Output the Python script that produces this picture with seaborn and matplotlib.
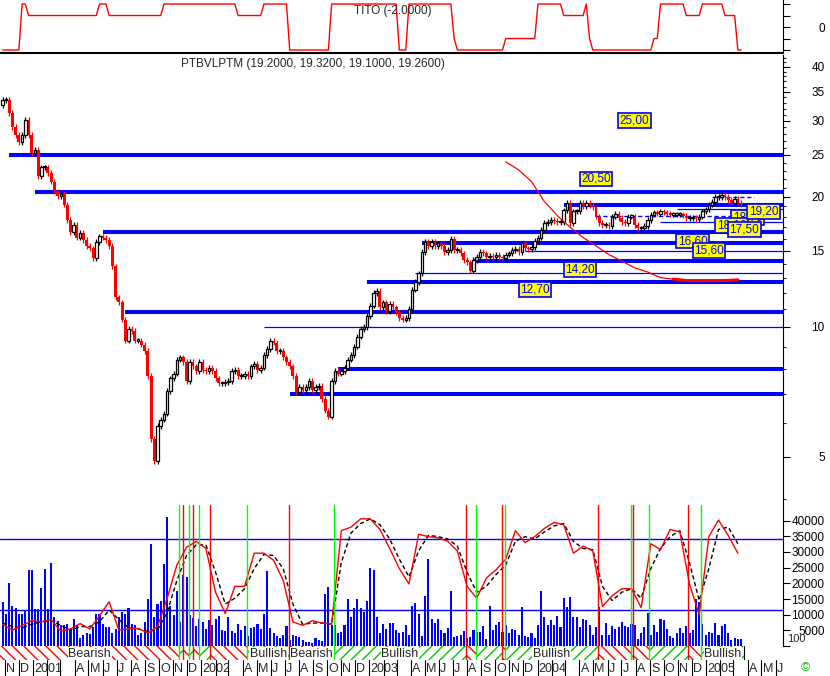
import numpy as np
import pandas as pd
import matplotlib
matplotlib.use('Agg')
import matplotlib.pyplot as plt
import matplotlib.dates as mdates
from matplotlib.patches import Rectangle
from matplotlib.ticker import FixedLocator, FixedFormatter, NullFormatter
import seaborn as sns

sns.set_style('white')
plt.rcParams['font.family'] = ['Liberation Sans', 'DejaVu Sans']
plt.rcParams['hatch.linewidth'] = 1.0

RED = '#ff0000'
BLUE = '#0000ff'
GREEN = '#00ff00'

# weekly closes (first bar 27 Oct 2000), open = previous close
first_open = 32.6
closes = [33.5, 33.5, 31.3, 29.0, 27.8, 26.8, 27.8, 30.1, 27.8, 25.3,
          25.7, 22.3, 23.4, 23.4, 22.7, 21.7, 20.6, 20.1, 20.3, 19.2,
          17.7, 16.6, 17.2, 16.1, 16.5, 15.9, 15.4, 15.2, 14.4, 15.7,
          16.2, 16.1, 15.9, 15.4, 13.8, 11.7, 11.4, 10.4, 9.3, 9.9,
          9.8, 9.3, 9.3, 9.1, 8.8, 7.7, 5.5, 4.9, 5.9, 6.1,
          6.3, 7.1, 7.6, 7.8, 8.4, 8.5, 8.3, 7.5, 8.3, 8.1,
          7.9, 8.3, 7.95, 7.9, 8.05, 7.9, 7.6, 7.4, 7.4, 7.45,
          7.5, 7.9, 7.95, 7.7, 7.7, 7.8, 7.7, 8.1, 8.2, 7.95,
          8.05, 8.6, 8.9, 9.3, 9.2, 8.8, 8.8, 8.5, 8.3, 8.1,
          7.7, 7.05, 7.25, 7.15, 7.25, 7.5, 7.15, 7.25, 7.3, 6.8,
          6.4, 6.2, 7.5, 7.9, 7.8, 7.9, 8.05, 8.4, 8.6, 9.0,
          9.5, 9.9, 10.0, 10.6, 11.2, 12.0, 12.1, 11.1, 11.4, 10.9,
          11.3, 11.1, 10.8, 10.5, 10.4, 10.5, 11.0, 12.2, 12.7, 13.3,
          14.9, 15.7, 15.4, 15.7, 15.4, 15.6, 15.4, 14.9, 15.05, 16.0,
          15.05, 15.05, 14.8, 14.3, 14.1, 13.5, 14.3, 14.5, 14.9, 14.8,
          14.5, 14.6, 14.5, 14.7, 14.5, 14.4, 14.7, 14.8, 15.05, 15.15,
          14.9, 15.6, 15.2, 15.15, 15.3, 15.8, 16.1, 16.8, 17.4, 17.5,
          17.7, 17.6, 17.5, 17.5, 18.6, 19.4, 17.4, 18.5, 18.5, 19.4,
          19.0, 19.4, 19.1, 18.9, 18.0, 17.4, 17.2, 17.2, 17.1, 18.0,
          18.3, 17.9, 17.5, 17.4, 18.0, 18.0, 17.2, 16.9, 16.9, 17.1,
          17.7, 18.2, 18.4, 18.3, 18.5, 18.4, 18.3, 18.2, 18.2, 18.2,
          18.2, 18.1, 17.9, 17.9, 17.9, 17.8, 18.0, 18.5, 18.7, 19.2,
          19.5, 20.0, 20.0, 20.2, 20.0, 19.7, 19.4, 19.8, 19.4, 19.26]

# weekly volume, thousands
volume_k = [14.2, 10.3, 20.1, 12.7, 12.1, 10.3, 10.3, 11.3, 24.2, 24.3,
            11.9, 11.9, 18.4, 24.7, 11.9, 26.4, 9.2, 7.9, 6.8, 6.6,
            7.1, 5.5, 8.5, 6.6, 2.6, 3.4, 4.0, 3.7, 6.1, 10.3,
            10.3, 7.1, 6.1, 6.1, 4.0, 5.5, 9.2, 10.8, 10.3, 12.1,
            7.1, 6.6, 3.4, 4.0, 7.7, 15.0, 32.4, 9.2, 13.4, 14.5,
            26.1, 41.1, 12.9, 9.8, 17.7, 7.7, 22.6, 21.9, 10.0, 8.9,
            6.4, 8.5, 7.7, 5.3, 8.2, 6.8, 8.7, 9.5, 5.0, 4.7,
            9.1, 4.7, 4.3, 7.1, 5.0, 6.4, 3.2, 5.8, 6.1, 7.1,
            5.3, 10.3, 24.0, 5.8, 4.0, 3.2, 2.6, 3.4, 6.4, 1.9,
            3.4, 3.2, 2.9, 1.9, 1.3, 1.3, 0.8, 2.4, 1.9, 1.5,
            16.6, 18.7, 6.8, 6.6, 4.0, 4.5, 6.8, 15.0, 9.2, 12.1,
            15.0, 12.1, 11.0, 14.5, 25.0, 24.3, 9.2, 4.3, 7.1, 5.3,
            7.4, 7.4, 5.0, 4.3, 4.5, 6.6, 3.6, 12.9, 13.7, 10.3,
            3.1, 16.1, 27.7, 8.7, 7.4, 8.5, 5.0, 4.0, 5.9, 17.6,
            2.9, 3.1, 3.6, 4.7, 2.6, 2.9, 5.0, 4.5, 4.5, 6.4,
            2.2, 12.9, 5.0, 6.8, 7.7, 4.5, 6.8, 4.3, 5.3, 5.0,
            3.6, 12.4, 3.2, 2.9, 4.3, 2.6, 6.8, 17.6, 9.2, 6.6,
            8.2, 6.6, 9.5, 6.1, 15.2, 12.4, 15.5, 9.2, 9.2, 6.1,
            8.5, 8.2, 6.8, 3.4, 6.1, 12.4, 3.6, 7.4, 3.4, 6.4,
            5.5, 6.1, 7.7, 6.4, 6.1, 7.1, 6.8, 2.2, 4.3, 6.1,
            10.6, 3.4, 6.8, 4.5, 8.7, 8.2, 5.5, 3.2, 2.6, 4.0,
            5.7, 4.0, 6.4, 4.0, 5.0, 15.0, 14.0, 7.1, 3.4, 4.5,
            4.0, 7.4, 3.4, 6.4, 7.1, 4.0, 1.9, 2.4, 2.2, 2.2]

# TITO indicator as (value, number of weeks)
tito_runs = [(-2, 6), (2, 2), (1, 22), (2, 3), (1, 17), (2, 23), (1, 8), (2, 8),
             (-2, 13), (2, 21), (-2, 3), (2, 14), (-1, 1), (-2, 15), (-1, 10),
             (2, 8), (1, 7), (2, 1), (-1, 1), (-2, 19), (-1, 2), (2, 8), (1, 5),
             (2, 7), (1, 4), (-2, 2)]

# stochastic %K / %D, one value every 3 weeks
stoch_k = [8, 3, 7, 11, 10, 12, 2, 4, 8.5, 4, 15, 27, 3, 4, 4.5, 0.5, 6, 30, 58, 73,
           78, 72, 35, 17, 40, 40, 68, 68, 62, 45, 10, 7, 11, 9, 8, 87, 90, 97, 97, 88,
           72, 55, 42, 84, 82, 81, 78, 70, 40, 30, 47, 54, 63, 87, 77, 82, 89, 94, 92, 68,
           74, 70, 23, 32, 38, 38, 22, 76, 71, 88, 86, 42, 16, 82, 96, 83, 68]
stoch_d = [9, 6, 5, 8, 10, 11, 7, 3, 6, 6, 10, 20, 12, 5, 4, 2, 3, 18, 45, 66,
           75, 75, 52, 25, 30, 38, 55, 67, 66, 55, 25, 8, 9, 9, 8, 60, 85, 93, 97, 92,
           80, 63, 48, 70, 83, 82, 80, 74, 52, 35, 40, 50, 58, 78, 82, 80, 86, 91, 93, 78,
           72, 71, 40, 28, 35, 38, 30, 55, 72, 82, 87, 60, 28, 55, 88, 90, 76]

# red curve in the price panel, every 4 weeks from Oct 2003
curve_price = [24.1, 23.1, 21.7, 19.5, 18.1, 17.0, 16.1, 15.4, 14.7, 14.2,
               13.7, 13.4, 13.0, 12.9, 12.8, 12.8, 12.8, 12.8, 12.85]

# horizontal support / resistance lines: price, start, end, style
levels = [(25.0, '2000-11-10', None, 'thick'), (20.5, '2001-01-05', None, 'thick'),
          (16.6, '2001-06-01', None, 'thick'), (10.8, '2001-07-20', None, 'thick'),
          (10.0, '2002-05-17', None, 'thin'), (7.0, '2002-07-12', None, 'thick'),
          (8.0, '2002-10-25', None, 'thick'), (12.7, '2002-12-27', None, 'thick'),
          (13.3, '2003-04-11', None, 'thin'), (15.6, '2003-04-25', None, 'thick'),
          (14.2, '2003-08-15', None, 'thick'), (15.0, '2003-12-05', None, 'thin'),
          (19.2, '2004-02-27', None, 'thick'), (18.1, '2004-05-07', '2005-03-04', 'dash'),
          (18.7, '2004-10-29', None, 'thin'), (17.5, '2004-09-24', None, 'thin'),
          (20.0, '2005-01-14', '2005-04-15', 'dash')]

# level tags: text, date, price, drawing order
tags = [('25,00', '2004-07-30', 30.0, 5), ('20,50', '2004-05-07', 22.0, 5),
        ('18,70', '2005-04-01', 17.9, 5), ('19,20', '2005-05-06', 18.5, 6),
        ('18,10', '2005-02-25', 17.2, 5), ('17,50', '2005-03-25', 16.8, 6),
        ('16,60', '2004-12-03', 15.8, 5), ('15,60', '2005-01-07', 15.0, 6),
        ('14,20', '2004-04-02', 13.6, 5), ('12,70', '2003-12-26', 12.2, 5)]

buy_signals = ['2001-11-14', '2001-12-06', '2001-12-28', '2002-04-11', '2002-10-16',
               '2003-08-20', '2003-10-22', '2004-07-23', '2004-08-31', '2004-12-22']
sell_signals = ['2001-11-23', '2001-12-15', '2002-01-19', '2002-07-11', '2003-07-30',
                '2003-10-16', '2004-05-11', '2004-07-26', '2004-11-22']

weeks = pd.date_range('2000-10-27', periods=len(closes), freq='W-FRI')
xw = mdates.date2num(weeks)
x_left = mdates.date2num(pd.Timestamp('2000-10-21'))
x_right = mdates.date2num(pd.Timestamp('2005-06-17'))

fig = plt.figure(figsize=(8.3, 6.76), dpi=100)
W = 783 / 830


def box(top, bottom):
    return [0, 1 - bottom / 676, W, (bottom - top) / 676]


ax_t = fig.add_axes(box(0, 53))
ax_p = fig.add_axes(box(55, 505))
ax_v = fig.add_axes(box(505, 646))
ax_b = fig.add_axes(box(646, 660))
ax_m = fig.add_axes(box(660, 676))

for a in (ax_t, ax_p, ax_v, ax_b, ax_m):
    a.set_xlim(x_left, x_right)
    a.set_facecolor('white')
    for s in a.spines.values():
        s.set_visible(False)
        s.set_color('black')


def right_ticks(a, pad=25):
    a.yaxis.tick_right()
    a.tick_params(axis='y', which='major', right=True, left=False, labelright=True,
                  labelleft=False, direction='out', length=5, width=0.8, pad=pad,
                  labelsize=8.5, colors='black')
    a.tick_params(axis='y', which='minor', right=True, left=False, direction='out',
                  length=2.5, width=0.8)
    a.tick_params(axis='x', bottom=False, labelbottom=False)
    for lab in a.get_yticklabels():
        lab.set_ha('right')


# TITO panel
tito = np.repeat([v for v, n in tito_runs], [n for v, n in tito_runs])
sns.lineplot(x=xw, y=tito, ax=ax_t, color=RED, lw=1)
ax_t.set_ylim(-2.26, 2.35)
ax_t.spines['bottom'].set_visible(True)
ax_t.spines['bottom'].set_linewidth(1.5)
ax_t.spines['right'].set_visible(True)
ax_t.set_yticks([-2, -1, 0, 1, 2])
ax_t.set_yticklabels(['', '', '0', '', ''])
right_ticks(ax_t)

# price panel: candles
o = np.array([first_open] + closes[:-1])
c = np.array(closes)
lo = np.minimum(o, c)
hi = np.maximum(o, c)
top = np.maximum(hi, lo * 1.006)
down = c < o
ax_p.vlines(xw[down], lo[down] * 0.985, hi[down] * 1.015, color=RED, lw=0.9, zorder=3)
ax_p.vlines(xw[~down], lo[~down] * 0.985, hi[~down] * 1.015, color='black', lw=0.9, zorder=3)
ax_p.bar(xw[down], (top - lo)[down], bottom=lo[down], width=6.5, color=RED, lw=0, zorder=4)
ax_p.bar(xw[~down], (top - lo)[~down], bottom=lo[~down], width=5.5, facecolor='white',
         edgecolor='black', lw=0.9, zorder=4)

styles = {'thick': dict(lw=2.9, ls='-'), 'thin': dict(lw=0.9, ls='-'),
          'dash': dict(lw=1.0, ls=(0, (3, 2)))}
for price, start, end, st in levels:
    xe = x_right if end is None else mdates.date2num(pd.Timestamp(end))
    ax_p.hlines(price, mdates.date2num(pd.Timestamp(start)), xe, color=BLUE, zorder=2,
                **styles[st])

curve_x = xw[156::4]
sns.lineplot(x=curve_x, y=curve_price, ax=ax_p, color=RED, lw=0.9, zorder=5)
ax_p.plot(curve_x[-6:], curve_price[-6:], color=RED, lw=2.2, zorder=5)

for text, d, price, z in tags:
    ax_p.text(mdates.date2num(pd.Timestamp(d)), price, text, ha='center', va='center',
              fontsize=8.5, color=BLUE, zorder=10 + z,
              bbox=dict(boxstyle='square,pad=0.12', fc='yellow', ec=BLUE, lw=1.2))

ax_p.set_yscale('log')
ax_p.set_ylim(3.87, 42.6)
ax_p.yaxis.set_major_locator(FixedLocator([5, 10, 15, 20, 25, 30, 35, 40]))
ax_p.yaxis.set_major_formatter(FixedFormatter(['5', '10', '15', '20', '25', '30', '35', '40']))
ax_p.yaxis.set_minor_locator(FixedLocator(list(range(4, 43))))
ax_p.yaxis.set_minor_formatter(NullFormatter())
ax_p.spines['right'].set_visible(True)
right_ticks(ax_p)

# volume + stochastic panel
ax_v.bar(xw, np.array(volume_k) * 1000, width=4.5, color=BLUE, lw=0)
ax_v.set_ylim(0, 45000)

ax_s = ax_v.twinx()
ax_s.set_xlim(x_left, x_right)
ax_s.set_ylim(-10.4, 108.7)
for s in ax_s.spines.values():
    s.set_visible(False)
ax_s.set_yticks([])
ax_s.tick_params(axis='x', bottom=False, labelbottom=False)
ax_s.axhline(80, color=BLUE, lw=1)
ax_s.axhline(20, color=BLUE, lw=1)
sx = xw[::3]
sns.lineplot(x=sx, y=stoch_d, ax=ax_s, color='black', lw=1, linestyle=(0, (3, 2)))
sns.lineplot(x=sx, y=stoch_k, ax=ax_s, color=RED, lw=1)

# volume ticks on the right (after twinx, which moves them left)
ax_v.set_yticks(list(range(0, 40001, 5000)))
ax_v.set_yticklabels([''] + [str(v) for v in range(5000, 40001, 5000)])
ax_v.spines['right'].set_visible(True)
right_ticks(ax_v)

buy_x = mdates.date2num(pd.to_datetime(buy_signals))
sell_x = mdates.date2num(pd.to_datetime(sell_signals))
for xs, col in ((buy_x, GREEN), (sell_x, RED)):
    for xv in xs:
        ax_s.axvline(xv, color=col, lw=1)
        ax_b.axvline(xv, color=col, lw=1)

# bullish / bearish band
events = sorted([(v, 'Bullish') for v in buy_x] + [(v, 'Bearish') for v in sell_x])
band_end = mdates.date2num(pd.Timestamp('2005-03-25'))
bounds = [x_left] + [v for v, _ in events] + [band_end]
states = ['Bearish'] + [s for _, s in events]
for a, b, st in zip(bounds[:-1], bounds[1:], states):
    col = RED if st == 'Bearish' else '#00c800'
    hatch = '\\\\\\' if st == 'Bearish' else '///'
    ax_b.add_patch(Rectangle((a, 0), b - a, 1, facecolor='white', edgecolor=col,
                             hatch=hatch, lw=0))
    if b - a > 85:
        ax_b.text((a + b) / 2, 0.45, st, ha='center', va='center', fontsize=9,
                  bbox=dict(boxstyle='square,pad=0.05', fc='white', ec='none'))
ax_b.axvline(band_end, color='black', lw=0.8)
ax_b.set_ylim(0, 1)
ax_b.set_xticks([])
ax_b.set_yticks([])

# month row
letters = 'JFMAMJJASOND'
for m in pd.date_range('2000-11-01', '2005-06-01', freq='MS'):
    mx = mdates.date2num(m)
    ax_m.axvline(mx, color='black', lw=0.8)
    if m.month == 1:
        lab = str(m.year)
    elif m.month in (2, 3):
        lab = ''
    else:
        lab = letters[m.month - 1]
    ax_m.text(mx + 2.5, 0.45, lab, ha='left', va='center', fontsize=9)
ax_m.set_ylim(0, 1)
ax_m.set_xticks([])
ax_m.set_yticks([])

for a in (ax_t, ax_p, ax_v, ax_s, ax_b, ax_m):
    a.set_xlabel('')
    a.set_ylabel('')

fig.text(393 / 830, 1 - 11 / 676, 'TITO (-2.0000)', ha='center', va='center', fontsize=8.5)
fig.text(313 / 830, 1 - 64 / 676, 'PTBVLPTM (19.2000, 19.3200, 19.1000, 19.2600)',
         ha='center', va='center', fontsize=8.5)
fig.text(787 / 830, 1 - 639 / 676, '100', ha='left', va='center', fontsize=8)
fig.text(805 / 830, 1 - 668 / 676, '©', ha='center', va='center', fontsize=9, color='#00c000')

fig.savefig('out.png', dpi=100)
